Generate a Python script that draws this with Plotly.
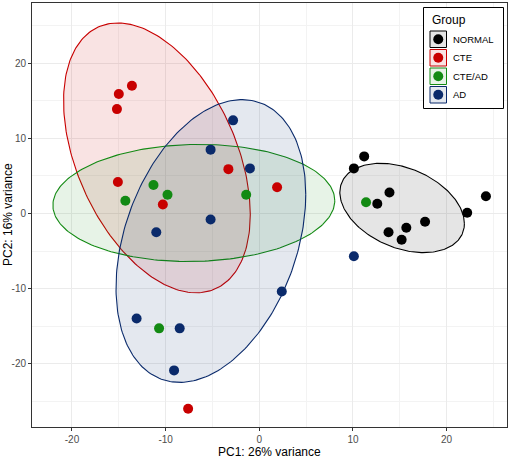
import numpy as np
import plotly.graph_objects as go

# ---------------- data ----------------
groups = ["NORMAL", "CTE", "CTE/AD", "AD"]
group_colors = ["#000000", "#C80000", "#138A13", "#0A2A6B"]
fill_colors = ["rgba(0,0,0,0.10)", "rgba(200,0,0,0.11)", "rgba(19,138,19,0.10)", "rgba(10,42,107,0.11)"]

normal_pc1 = [10.1, 11.2, 12.6, 13.9, 13.8, 15.7, 15.2, 17.7, 22.2, 24.2]
normal_pc2 = [6.0, 7.6, 1.3, 2.8, -2.5, -1.9, -3.5, -1.1, 0.1, 2.3]

cte_pc1 = [-13.6, -15.0, -15.2, -15.1, -10.3, -3.3, 1.9, -7.6]
cte_pc2 = [17.0, 15.9, 13.9, 4.2, 1.2, 5.9, 3.5, -26.0]

ctead_pc1 = [-11.3, -9.8, -14.3, -1.4, 11.4, -10.7]
ctead_pc2 = [3.8, 2.5, 1.7, 2.5, 1.5, -15.3]

ad_pc1 = [-2.8, -5.2, -1.0, -5.2, -11.0, -13.1, -8.5, -9.1, 2.4, 10.1]
ad_pc2 = [12.4, 8.5, 6.0, -0.8, -2.5, -14.0, -15.3, -20.9, -10.4, -5.7]

# ellipse parameters per group: centre, half extents along PC1/PC2, correlation
ell_cx = [15.25, -10.93, -6.99, -5.17]
ell_cy = [0.73, 7.4, 1.4, -3.67]
ell_hx = [6.65, 9.97, 15.05, 10.13]
ell_hy = [5.95, 17.97, 7.8, 18.83]
ell_rho = [-0.35, -0.42, 0.04, 0.33]

x_tickvals = [-20, -10, 0, 10, 20]
x_ticktext = ["-20", "-10", "0", "10", "20"]
y_tickvals = [-20, -10, 0, 10, 20]
y_ticktext = ["-20", "-10", "0", "10", "20"]

xlab = "PC1: 26% variance"
ylab = "PC2: 16% variance"
legend_title = "Group"

pc1 = [normal_pc1, cte_pc1, ctead_pc1, ad_pc1]
pc2 = [normal_pc2, cte_pc2, ctead_pc2, ad_pc2]

FONT = "Liberation Sans, Arial, Helvetica, sans-serif"
W, H = 510, 459
ML, MR, MT, MB = 32, 3, 3, 32

fig = go.Figure()

# ellipses
t = np.linspace(0, 2 * np.pi, 241)
for i, g in enumerate(groups):
    sxy = ell_rho[i] * ell_hx[i] * ell_hy[i]
    cov = np.array([[ell_hx[i] ** 2, sxy], [sxy, ell_hy[i] ** 2]])
    L = np.linalg.cholesky(cov)
    pts = L @ np.vstack([np.cos(t), np.sin(t)])
    fig.add_trace(go.Scatter(
        x=ell_cx[i] + pts[0], y=ell_cy[i] + pts[1], mode="lines",
        fill="toself", fillcolor=fill_colors[i],
        line=dict(color=group_colors[i], width=1.1),
        hoverinfo="skip", showlegend=False))

# points
for i, g in enumerate(groups):
    fig.add_trace(go.Scatter(
        x=pc1[i], y=pc2[i], mode="markers", name=g,
        marker=dict(color=group_colors[i], size=10, line=dict(width=0)),
        showlegend=False))

# custom ggplot-like legend (pixel -> paper helpers)
pw = W - ML - MR
ph = H - MT - MB
def px(x):
    return (x - ML) / pw
def py(y):
    return (H - MB - y) / ph

shapes = []
annotations = []
shapes.append(dict(type="rect", xref="paper", yref="paper",
                   x0=px(423.5), x1=px(503.5), y0=py(108.5), y1=py(7.5),
                   line=dict(color="#000000", width=1), fillcolor="white", layer="above"))
annotations.append(dict(text=legend_title, xref="paper", yref="paper", x=px(429.5), y=py(20),
                        xanchor="left", yanchor="middle", showarrow=False,
                        font=dict(family=FONT, size=12, color="#000000")))
key_top = [31, 49.5, 68, 86.5]
for i, g in enumerate(groups):
    y0 = key_top[i]
    y1 = y0 + 16.5
    shapes.append(dict(type="rect", xref="paper", yref="paper",
                       x0=px(430), x1=px(446.5), y0=py(y1), y1=py(y0),
                       line=dict(color=group_colors[i], width=1), fillcolor=fill_colors[i], layer="above"))
    cyk = (y0 + y1) / 2
    shapes.append(dict(type="circle", xref="paper", yref="paper",
                       xsizemode="pixel", ysizemode="pixel",
                       xanchor=px(438.25), yanchor=py(cyk),
                       x0=-5, x1=5, y0=-5, y1=5,
                       line=dict(width=0), fillcolor=group_colors[i], layer="above"))
    annotations.append(dict(text=g, xref="paper", yref="paper", x=px(450.5), y=py(cyk),
                            xanchor="left", yanchor="middle", showarrow=False,
                            font=dict(family=FONT, size=9.5, color="#000000")))

# axis titles
annotations.append(dict(text=xlab, xref="paper", yref="paper", x=0.5, y=py(451.5),
                        xanchor="center", yanchor="middle", showarrow=False,
                        font=dict(family=FONT, size=12, color="#000000")))
annotations.append(dict(text=ylab, xref="paper", yref="paper", x=px(8), y=0.5,
                        xanchor="center", yanchor="middle", showarrow=False, textangle=-90,
                        font=dict(family=FONT, size=12, color="#000000")))

axis_common = dict(
    showgrid=True, gridcolor="#EBEBEB", gridwidth=1,
    zeroline=False, showline=True, mirror=True, linecolor="#333333", linewidth=1,
    ticks="outside", ticklen=3, tickwidth=1, tickcolor="#333333",
    tickfont=dict(family=FONT, size=10, color="#4D4D4D"),
    minor=dict(dtick=5, showgrid=True, gridcolor="#F3F3F3", gridwidth=0.6, ticks=""),
)

fig.update_layout(
    width=W, height=H,
    margin=dict(l=ML, r=MR, t=MT, b=MB, pad=0),
    paper_bgcolor="white", plot_bgcolor="white",
    showlegend=False,
    shapes=shapes, annotations=annotations,
    xaxis=dict(range=[-24.27, 26.45], tickvals=x_tickvals, ticktext=x_ticktext,
               tick0=0, **axis_common),
    yaxis=dict(range=[-28.44, 28.03], tickvals=y_tickvals, ticktext=y_ticktext,
               tick0=0, **axis_common),
)

fig.write_html("out.html")
